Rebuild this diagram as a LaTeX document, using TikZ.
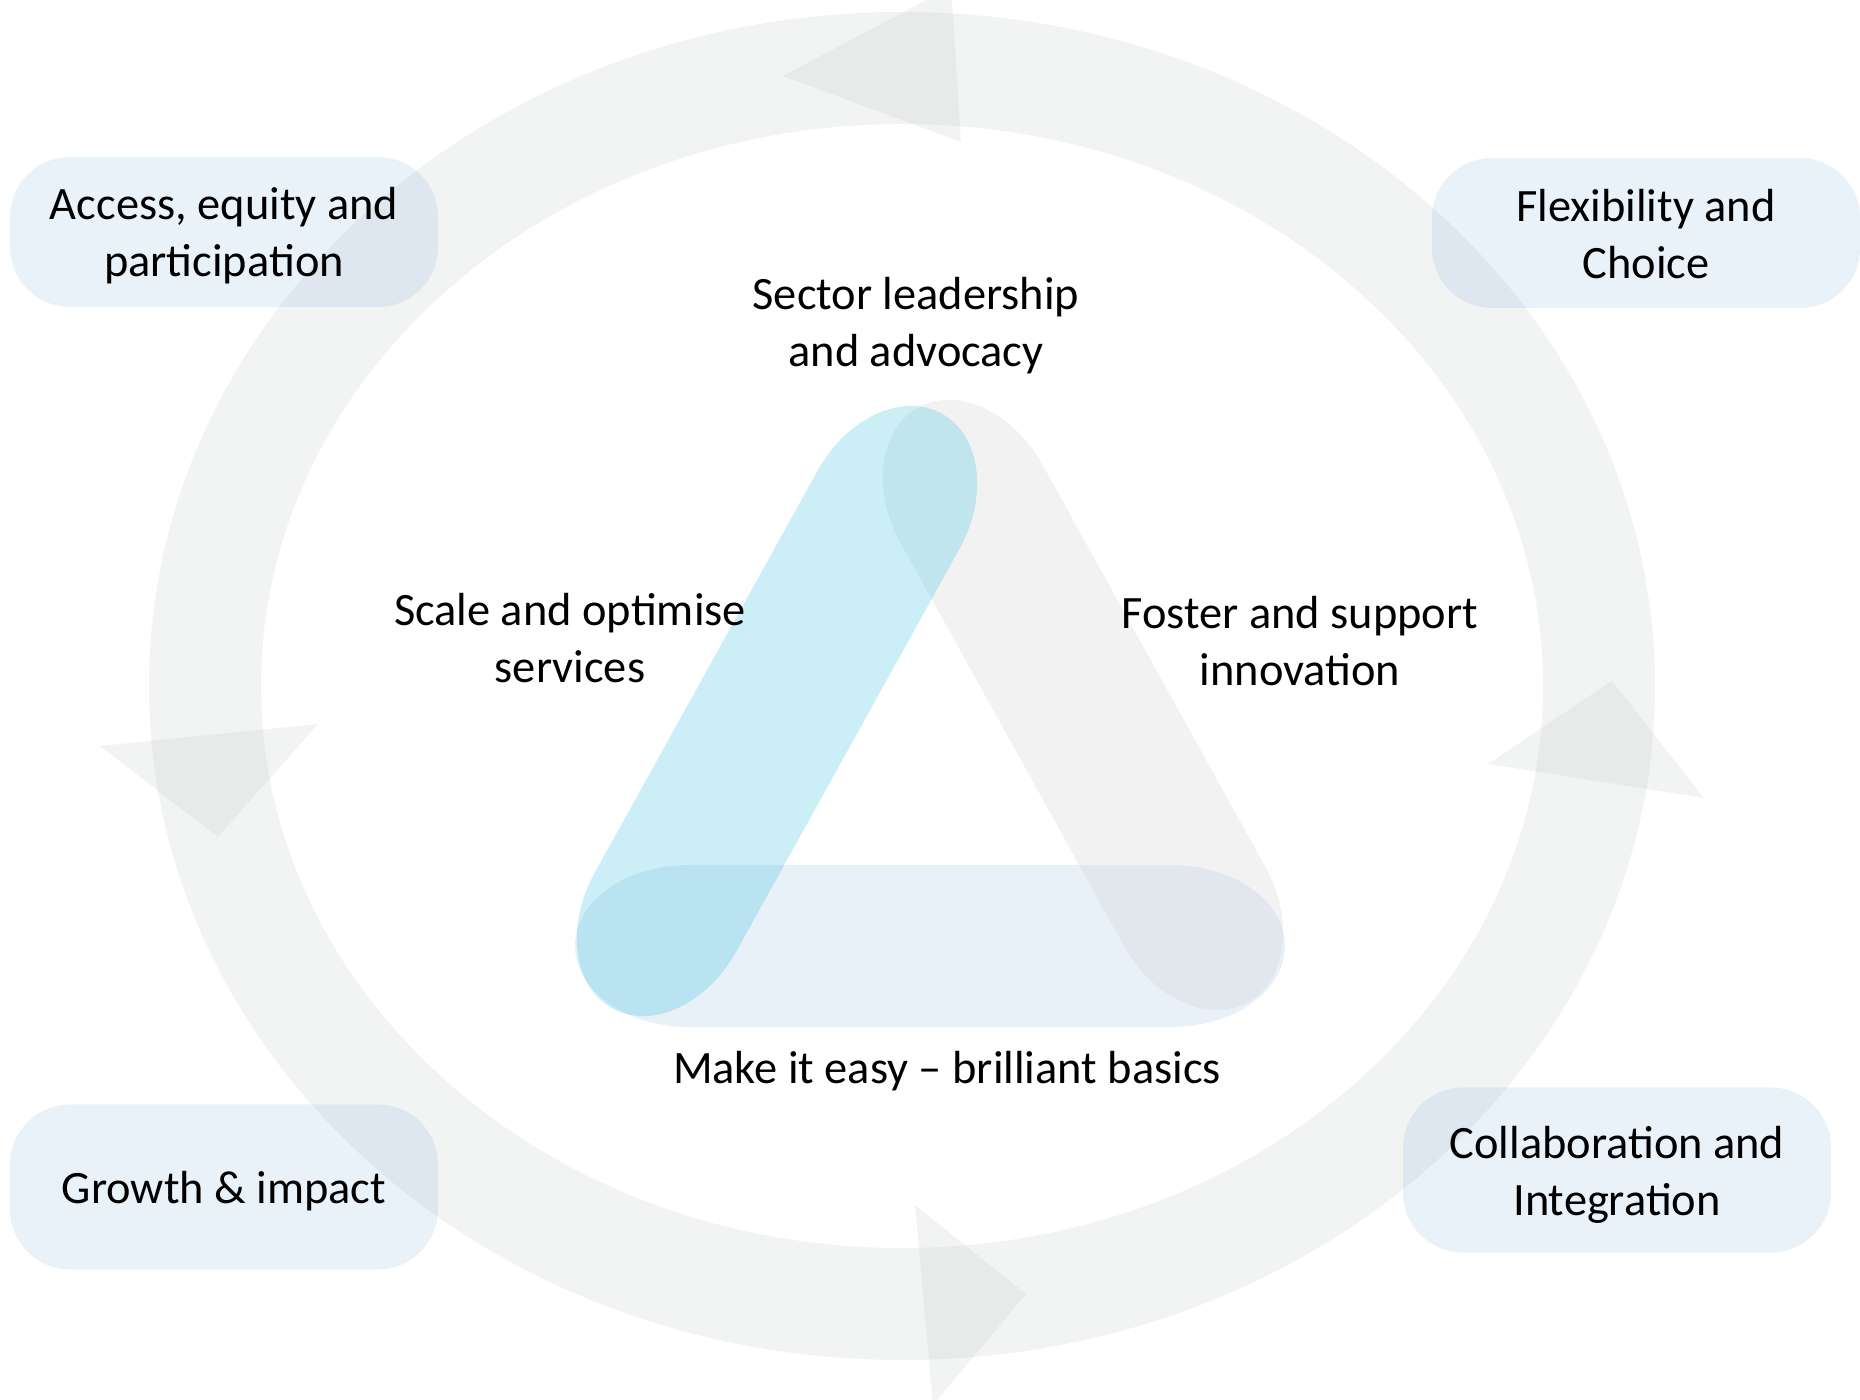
\documentclass[tikz,border=0pt]{standalone}
\usepackage{fontspec}
\setmainfont{Carlito}
\definecolor{ringgrey}{RGB}{242, 243, 243}
\definecolor{arrowgrey}{RGB}{200, 205, 205}
\definecolor{pillblue}{RGB}{145, 185, 225}
\definecolor{barblue}{RGB}{232, 240, 248}
\definecolor{sidegrey}{RGB}{212, 212, 212}
\definecolor{sidecyan}{RGB}{33, 185, 220}
\usetikzlibrary{positioning}

\begin{document}
\begin{tikzpicture}[x=0.5pt, y=-0.5pt,
  every node/.style={font=\fontsize{23.2}{28.5}\selectfont},
  pill/.style={fill=pillblue, fill opacity=0.2, text opacity=1, rounded corners=30pt, minimum width=214pt, inner sep=0pt, align=center},
  txt/.style={align=center},
  headtri/.style={fill=arrowgrey, fill opacity=0.23}]
  \useasboundingbox (0,0) rectangle (1860,1400);

  % Outer cycle with its four heads
  \coordinate (hub) at (902,686);
  \draw[ringgrey, line width=56pt] (hub) ellipse [x radius=697, y radius=618];
  \fill[headtri] (951,-13) -- (961,142) -- (783,76) -- cycle;
  \fill[headtri] (100,746) -- (318,724) -- (218,837) -- cycle;
  \fill[headtri] (915,1205) -- (933,1405) -- (1026,1294) -- cycle;
  \fill[headtri] (1488,764) -- (1704,798) -- (1612,681) -- cycle;

  % Corner pills
  \node[pill, minimum height=75pt, text height=48.5pt] (access) at (224,232) {Access, equity and\\participation};
  \node[pill, minimum height=75pt, text height=46pt] (flex) at (1646,233) {Flexibility and\\Choice};
  \node[pill, minimum height=82.5pt, text height=20.5pt] (growth) at (224,1187) {Growth \& impact};
  \node[pill, minimum height=82.5pt, text height=49.3pt] (collab) at (1617,1170) {Collaboration and\\Integration};

  % Triangle: base bar
  \begin{scope}[shift={(930,946)}]
    \fill[barblue] (-241,-81) -- (241,-81) arc[start angle=-90, end angle=90, x radius=114, y radius=81]
      -- (-241,81) arc[start angle=90, end angle=270, x radius=114, y radius=81] -- cycle;
  \end{scope}
  % Triangle: right side
  \begin{scope}[shift={(1083,705)}, rotate=-61]
    \fill[sidegrey, fill opacity=0.3] (-230,-81) -- (230,-81) arc[start angle=-90, end angle=90, x radius=110, y radius=81]
      -- (-230,81) arc[start angle=90, end angle=270, x radius=110, y radius=81] -- cycle;
  \end{scope}
  % Triangle: left side
  \begin{scope}[shift={(777,711)}, rotate=61]
    \fill[sidecyan, fill opacity=0.23] (-230,-81) -- (230,-81) arc[start angle=-90, end angle=90, x radius=110, y radius=81]
      -- (-230,81) arc[start angle=90, end angle=270, x radius=110, y radius=81] -- cycle;
  \end{scope}

  % Labels round the triangle
  \node[txt] (lead) at (916,326) {Sector leadership\\and advocacy};
  \node[txt] (scale) at (570,638) {Scale and optimise\\services};
  \node[txt] (foster) at (1300,641) {Foster and support\\innovation};
  \node[txt] (basics) at (947,1071) {Make it easy -- brilliant basics};
\end{tikzpicture}
\end{document}
